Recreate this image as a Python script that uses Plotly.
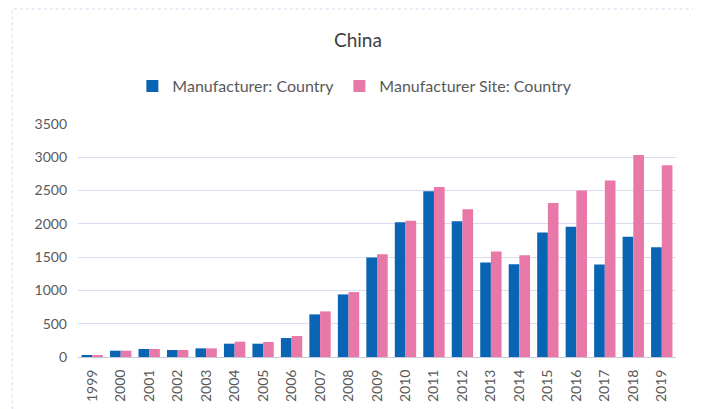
import plotly.graph_objects as go

years = [str(y) for y in range(1999, 2020)]
manufacturer = [25, 95, 120, 105, 130, 200, 200, 285, 640, 940, 1495,
                2025, 2490, 2040, 1420, 1395, 1870, 1955, 1390, 1805, 1650]
manufacturer_site = [20, 95, 120, 105, 130, 230, 225, 315, 685, 975, 1545,
                     2045, 2555, 2220, 1585, 1530, 2315, 2500, 2650, 3035, 2880]
y_ticks = [0, 500, 1000, 1500, 2000, 2500, 3000, 3500]

FONT = "Lato"
GRAY = "#595959"

fig = go.Figure()
fig.add_trace(go.Bar(x=years, y=manufacturer, name="Manufacturer: Country",
                     marker_color="#0A64B4", marker_line_width=0))
fig.add_trace(go.Bar(x=years, y=manufacturer_site, name="Manufacturer Site: Country",
                     marker_color="#E878A8", marker_line_width=0))

# the page body adds an 8px offset, so the figure is 8px smaller than the window
fig.update_layout(
    width=693, height=401,
    margin=dict(l=70, r=25, t=116, b=52, autoexpand=False),
    paper_bgcolor="white", plot_bgcolor="white",
    barmode="group", bargap=0.25, bargroupgap=0.0,
    font=dict(family=FONT, color=GRAY, size=14),
    title=dict(text="China", x=0.505, xanchor="center", y=0.92, yanchor="middle",
               font=dict(family=FONT, size=19, color="#404040")),
    legend=dict(orientation="h", x=0.463, xanchor="center", y=1.163, yanchor="middle",
                font=dict(family=FONT, size=16, color=GRAY),
                itemwidth=30, traceorder="normal"),
    xaxis=dict(type="category", tickangle=-90, showgrid=False, automargin=False,
               showline=True, linecolor="#C8C8D8", linewidth=1,
               ticks="", ticklabelstandoff=6, tickfont=dict(size=14, color=GRAY)),
    yaxis=dict(range=[0, 3500], tickvals=y_ticks, showgrid=True, automargin=False,
               gridcolor="#DCDCF0", gridwidth=1, zeroline=False,
               showline=False, ticks="", ticklabelstandoff=10,
               tickfont=dict(size=14, color=GRAY)),
    shapes=[dict(type="rect", xref="paper", yref="paper",
                 x0=-0.110, x1=1.032, y0=-0.26, y1=1.494,
                 line=dict(color="#D8D8EC", width=1, dash="dot"))],
)

fig.write_html("out.html")
